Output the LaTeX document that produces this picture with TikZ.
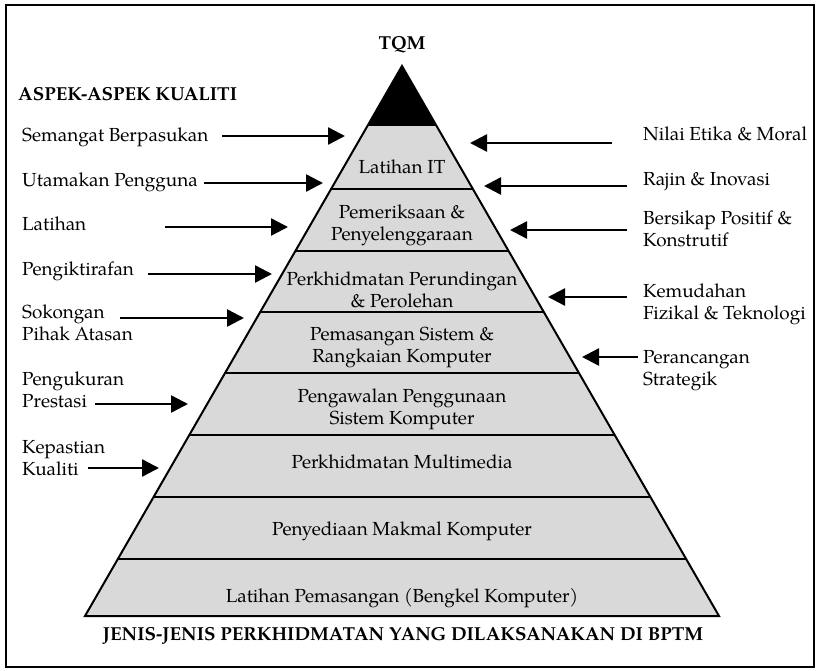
\documentclass[tikz,border=0pt]{standalone}
\usepackage{fontspec}
\setmainfont{TeX Gyre Pagella}
\usetikzlibrary{arrows.meta}
\definecolor{pyrgray}{HTML}{D9D9D9}
\newcommand\twoL[2]{\vtop{\halign{##\hfil\cr #1\cr #2\cr}}}
\newcommand\twoC[2]{\vtop{\halign{\hfil##\hfil\cr #1\cr #2\cr}}}
\begin{document}
\begin{tikzpicture}[x=1pt,y=-1pt,
  lbl/.style={inner sep=0pt, font=\fontsize{18.9}{22}\selectfont},
  ttl/.style={inner sep=0pt, font=\fontsize{18.8}{22}\selectfont\bfseries},
  arr/.style={line width=2.5pt, -{Triangle[length=17pt,width=17pt]}},
  edge/.style={line width=2pt}]
\useasboundingbox (0,0) rectangle (820,670);
\draw[line width=2pt] (6,5) rectangle (814,667);

% pyramid
\coordinate (apex) at (402,66);
\coordinate (bl) at (85,616);
\coordinate (br) at (719,616);
\fill[pyrgray] (apex) -- (bl) -- (br) -- cycle;
\fill[black] (apex) -- (368,125) -- (436,125) -- cycle;
\foreach \yy in {125,189,251,312,373,435,497,559}
  \draw[edge] ({402-(\yy-66)*0.5764},\yy) -- ({402+(\yy-66)*0.5764},\yy);
\draw[edge, line join=miter] (apex) -- (bl) -- (br) -- cycle;

% titles
\node[ttl, anchor=base] (tqm) at (402,49) {TQM};
\node[ttl, anchor=base west] (aspek) at (18,100) {ASPEK-ASPEK KUALITI};
\node[ttl, anchor=base] (jenis) at (403,640) {JENIS-JENIS PERKHIDMATAN YANG DILAKSANAKAN DI BPTM};

% pyramid texts
\node[lbl, anchor=base] (p1) at (402,173) {Latihan IT};
\node[lbl, anchor=base] (p2) at (402,218) {\twoC{Pemeriksaan \&}{Penyelenggaraan}};
\node[lbl, anchor=base] (p3) at (402,285) {\twoC{Perkhidmatan Perundingan}{\& Perolehan}};
\node[lbl, anchor=base] (p4) at (402,340) {\twoC{Pemasangan Sistem \&}{Rangkaian Komputer}};
\node[lbl, anchor=base] (p5) at (402,402) {\twoC{Pengawalan Penggunaan}{Sistem Komputer}};
\node[lbl, anchor=base] (p6) at (402,468) {Perkhidmatan Multimedia};
\node[lbl, anchor=base] (p7) at (402,535) {Penyediaan Makmal Komputer};
\node[lbl, anchor=base] (p8) at (402,602) {Latihan Pemasangan (Bengkel Komputer)};

% left labels
\node[lbl, anchor=base west] (l1) at (22,141) {Semangat Berpasukan};
\node[lbl, anchor=base west] (l2) at (22,186) {Utamakan Pengguna};
\node[lbl, anchor=base west] (l3) at (22,230) {Latihan};
\node[lbl, anchor=base west] (l4) at (22,275) {Pengiktirafan};
\node[lbl, anchor=base west] (l5) at (22,318) {\twoL{Sokongan}{Pihak Atasan}};
\node[lbl, anchor=base west] (l6) at (22,385) {\twoL{Pengukuran}{Prestasi}};
\node[lbl, anchor=base west] (l7) at (22,453) {\twoL{Kepastian}{Kualiti}};

% right labels
\node[lbl, anchor=base west] (r1) at (643,140) {Nilai Etika \& Moral};
\node[lbl, anchor=base west] (r2) at (643,185) {Rajin \& Inovasi};
\node[lbl, anchor=base west] (r3) at (643,224) {\twoL{Bersikap Positif \&}{Konstrutif}};
\node[lbl, anchor=base west] (r4) at (643,297) {\twoL{Kemudahan}{Fizikal \& Teknologi}};
\node[lbl, anchor=base west] (r5) at (643,363) {\twoL{Perancangan}{Strategik}};

% arrow ends
\coordinate (a1s) at (222,136); \coordinate (a1t) at (345,136);
\coordinate (a2s) at (204,183); \coordinate (a2t) at (323,183);
\coordinate (a3s) at (165,227); \coordinate (a3t) at (288,227);
\coordinate (a4s) at (148,274); \coordinate (a4t) at (272,274);
\coordinate (a5s) at (120,318); \coordinate (a5t) at (244,318);
\coordinate (a6s) at (95,404);  \coordinate (a6t) at (188,404);
\coordinate (a7s) at (88,468);  \coordinate (a7t) at (159,468);
\coordinate (b1s) at (612,143); \coordinate (b1t) at (470,143);
\coordinate (b2s) at (627,186); \coordinate (b2t) at (484,186);
\coordinate (b3s) at (627,230); \coordinate (b3t) at (510,230);
\coordinate (b4s) at (627,297); \coordinate (b4t) at (548,297);
\coordinate (b5s) at (638,357); \coordinate (b5t) at (582,357);
\foreach \n in {a1,a2,a3,a4,a5,a6,a7,b1,b2,b3,b4,b5}
  \draw[arr] (\n s) -- (\n t);
\end{tikzpicture}
\end{document}
